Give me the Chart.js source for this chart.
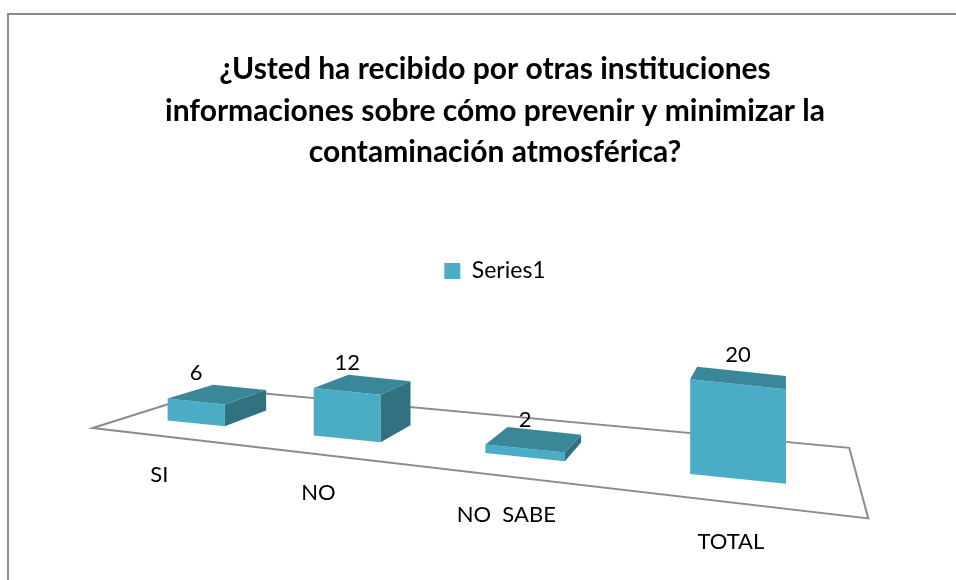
<!DOCTYPE html>
<html>
<head>
<meta charset="utf-8">
<script src="https://cdn.jsdelivr.net/npm/chart.js@4/dist/chart.umd.min.js"></script>
<style>
  html, body { margin: 0; padding: 0; background: #ffffff; overflow: hidden; width: 956px; height: 580px; }
  #frame { position: absolute; left: 7px; top: 13px; width: 1100px; height: 700px; border-left: 2px solid #8c8c8c; border-top: 2px solid #8c8c8c; box-sizing: border-box; }
  #wrap { position: absolute; left: 0; top: 0; width: 956px; height: 580px; }
</style>
</head>
<body>
<div id="frame"></div>
<div id="wrap"><canvas id="chart" width="956" height="580"></canvas></div>
<script>
// ---- data ----
const categories = ['SI', 'NO', 'NO  SABE', 'TOTAL'];
const seriesName = 'Series1';
const seriesValues = [6, 12, 2, 20];
const titleLines = [
  '¿Usted ha recibido por otras instituciones',
  'informaciones sobre cómo prevenir y minimizar la',
  'contaminación atmosférica?'
];

// ---- 3D view settings (styling only) ----
const FRONT = '#4BACC6', TOP = '#3B879A', SIDE = '#32717F', FLOOR = '#8c8c8c';
const view = {
  g: -0.2923,      // horizontal perspective
  unitPx: 3.52,    // projected pixels per value unit (near side)
  skew: 0.1023,    // slope of bar baseline
  vp: { x: 785, y: 210 }, // depth vanishing point
  depth: 0.0738,   // bar depth as fraction toward vanishing point
  floorFrontL: -0.75, floorFrontR: -1.3, floorBackL: 1.8, floorBackR: 2.1
};
const P = u => (1 + view.g) * u / (1 + view.g * u);
const dP = u => (1 + view.g) / Math.pow(1 + view.g * u, 2);
const toward = (p, d) => ({ x: p.x + view.depth * d * (view.vp.x - p.x), y: p.y + view.depth * d * (view.vp.y - p.y) });

function baseAt(ca, X) { return ca.bottom + view.skew * (X - (ca.left + ca.width / 2)); }
function frontPt(ca, u) { const X = ca.left + ca.width * P(u); return { x: X, y: baseAt(ca, X) }; }

const threeD = {
  id: 'threeD',
  afterDatasetsUpdate(chart) {
    chart.getDatasetMeta(0).data.forEach(el => {
      el.$flat = { x: el.x, y: el.y, base: el.base, width: el.width };
    });
  },
  beforeDatasetsDraw(chart) {
    const ctx = chart.ctx, ca = chart.chartArea, ys = chart.scales.y;
    const S = Math.abs(ys.getPixelForValue(0) - ys.getPixelForValue(1));
    // floor
    const fl = toward(frontPt(ca, 0), view.floorFrontL);
    const fr = toward(frontPt(ca, 1), view.floorFrontR);
    const br = toward(frontPt(ca, 1), view.floorBackR);
    const bl = toward(frontPt(ca, 0), view.floorBackL);
    chart.$floor = { fl, fr };
    ctx.save();
    ctx.strokeStyle = FLOOR; ctx.lineWidth = 2; ctx.lineJoin = 'miter';
    ctx.beginPath(); ctx.moveTo(fl.x, fl.y); ctx.lineTo(bl.x, bl.y); ctx.lineTo(br.x, br.y); ctx.lineTo(fr.x, fr.y); ctx.closePath();
    ctx.stroke();
    ctx.restore();
    // project bars
    chart.getDatasetMeta(0).data.forEach(el => {
      const f = el.$flat;
      const u = (f.x - ca.left) / ca.width;
      const X = ca.left + ca.width * P(u);
      const h = (f.base - f.y) / S * view.unitPx / (1 + view.g * u);
      el.x = X; el.width = f.width * dP(u); el.base = ca.bottom; el.y = ca.bottom - h;
      el.$proj = { X, w: el.width, h };
    });
    const Xref = ca.left + ca.width / 2;
    ctx.save();
    ctx.transform(1, view.skew, 0, 1, 0, -view.skew * Xref);
  },
  afterDatasetsDraw(chart) {
    const ctx = chart.ctx, ca = chart.chartArea;
    ctx.restore();
    const meta = chart.getDatasetMeta(0);
    const values = chart.data.datasets[0].data;
    meta.data.forEach((el, i) => {
      const p = el.$proj;
      const XL = p.X - p.w / 2, XR = p.X + p.w / 2;
      const bL = { x: XL, y: baseAt(ca, XL) }, bR = { x: XR, y: baseAt(ca, XR) };
      const tL = { x: XL, y: bL.y - p.h }, tR = { x: XR, y: bR.y - p.h };
      const btL = toward(tL, 1), btR = toward(tR, 1), bbR = toward(bR, 1);
      ctx.save();
      if (btR.x > tR.x) {
        ctx.fillStyle = SIDE;
        ctx.beginPath(); ctx.moveTo(tR.x, tR.y); ctx.lineTo(btR.x, btR.y); ctx.lineTo(bbR.x, bbR.y); ctx.lineTo(bR.x, bR.y); ctx.closePath(); ctx.fill();
      }
      ctx.fillStyle = TOP;
      ctx.beginPath(); ctx.moveTo(tL.x, tL.y); ctx.lineTo(tR.x, tR.y); ctx.lineTo(btR.x, btR.y); ctx.lineTo(btL.x, btL.y); ctx.closePath(); ctx.fill();
      ctx.restore();
      el.$top = { x: p.X, y: (tL.y + tR.y) / 2 };
    });
    // value labels
    ctx.save();
    ctx.fillStyle = '#000';
    ctx.textAlign = 'center'; ctx.textBaseline = 'middle';
    ctx.font = '22px Lato';
    meta.data.forEach((el, i) => {
      ctx.fillText(String(values[i]), el.$top.x, el.$top.y - 29);
    });
    // category labels
    const { fl, fr } = chart.$floor;
    ctx.font = '22px Lato';
    meta.data.forEach((el, i) => {
      const X0 = el.$proj.X;
      const lx = X0 - 0.055 * (fr.x - X0);
      const ly = fl.y + (fr.y - fl.y) * (lx - fl.x) / (fr.x - fl.x) + 39;
      ctx.fillText(chart.data.labels[i], lx, ly);
    });
    ctx.restore();
  }
};

new Chart(document.getElementById('chart'), {
  type: 'bar',
  data: {
    labels: categories,
    datasets: [{
      label: seriesName,
      data: seriesValues,
      backgroundColor: FRONT,
      borderWidth: 0,
      categoryPercentage: 1,
      barPercentage: 0.41,
      clip: false
    }]
  },
  options: {
    responsive: false,
    devicePixelRatio: 1,
    animation: false,
    events: [],
    layout: { padding: { left: 129, right: 95, top: 0, bottom: 126 } },
    scales: {
      x: { display: false },
      y: { display: false, min: 0, max: 25 }
    },
    plugins: {
      title: {
        display: true,
        text: titleLines,
        color: '#000',
        font: { family: 'Lato', size: 30, weight: 'bold', lineHeight: 1.383 },
        padding: { top: 49, bottom: 76 }
      },
      legend: {
        display: true,
        position: 'top',
        labels: { color: '#000', font: { family: 'Lato', size: 23 }, boxWidth: 16, boxHeight: 16, padding: 10 }
      },
      tooltip: { enabled: false }
    }
  },
  plugins: [threeD]
});
</script>
</body>
</html>
